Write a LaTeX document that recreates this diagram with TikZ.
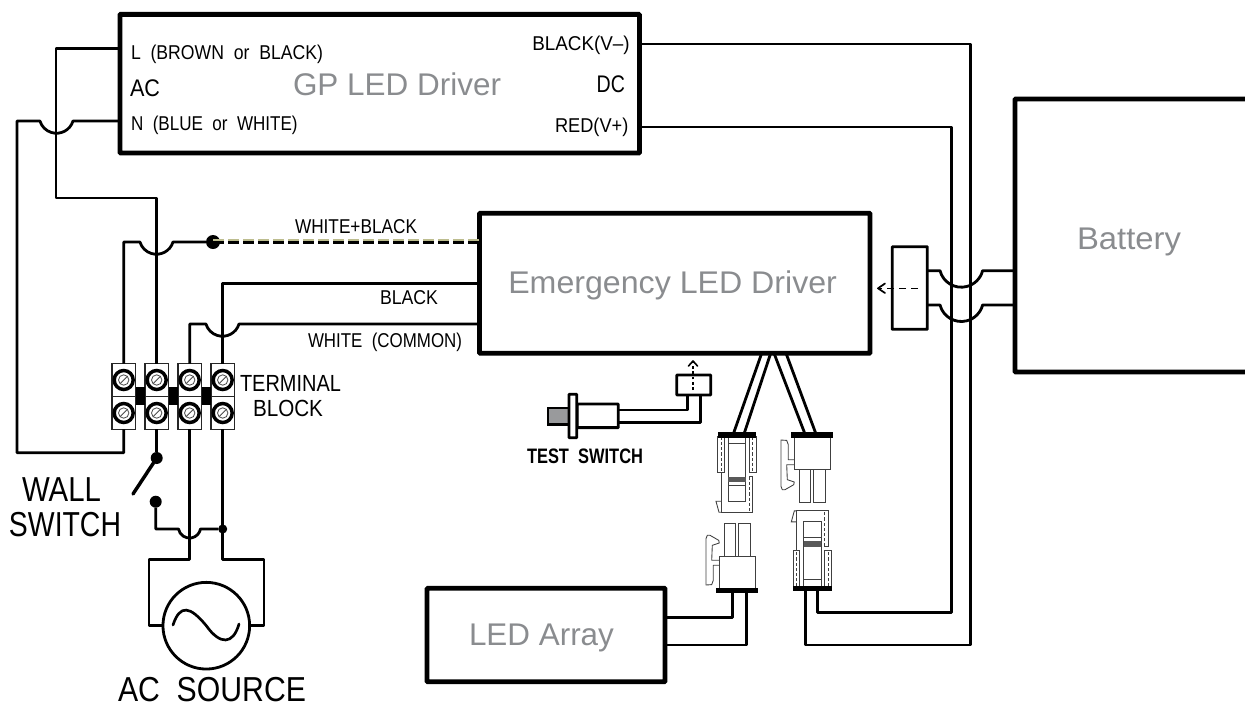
\documentclass[tikz,border=0pt]{standalone}
\usepackage{fontspec}
\usepackage{graphicx}
\usetikzlibrary{positioning}
\setmainfont{Liberation Sans}
\definecolor{labelgray}{HTML}{8A8C8F}
\definecolor{plungergray}{HTML}{999A9C}
\definecolor{wireolive}{HTML}{BDBD8F}
\newcommand{\fitw}[2]{\resizebox{#1pt}{\height}{#2}}
\tikzset{
  socketconn/.pic={
    \draw [thinpart] (0,-2) rectangle (6.6,-37.6);
    \draw [thinpart] (31.8,-2) rectangle (38.6,-37.6);
    \draw [thinpart, dashed, dash pattern=on 2.4pt off 1.5pt] (3.3,-2) -- (3.3,-37.6);
    \draw [thinpart, dashed, dash pattern=on 2.4pt off 1.5pt] (35.2,-2) -- (35.2,-37.6);
    \draw [thinpart] (10.6,-2) rectangle (28,-67);
    \draw [thinpart] (10.6,-8.6) -- (28,-8.6);
    \fill [black!65] (10.6,-42) rectangle (28,-47.6);
    \draw [thinpart] (10.6,-51) -- (28,-51);
    \draw [thinpart] (3.3,-37.6) -- (3.3,-77.6) -- (35,-77.6) -- (35,-42) -- (31.6,-42);
    \draw [thinpart, dashed, dash pattern=on 2.4pt off 1.5pt] (31.3,-42) -- (31.3,-77.6);
    \draw [thinpart] (3.3,-66.6) -- (-1.7,-66.6) -- (1.3,-77.6) -- (3.3,-77.6);
    \fill [black] (0,-2.8) rectangle (38.6,2.8);
  },
  plugconn/.pic={
    \draw [thinpart] (3.3,-2) rectangle (39,-34.3);
    \draw [thinpart] (8.3,-34.3) rectangle (19.7,-67.3);
    \draw [thinpart] (22.3,-34.3) rectangle (34,-67.3);
    \draw [thinpart, line join=round] (3.3,-25) -- (-2.7,-25) -- (-2.7,-10) -- (-4.3,-5.7) -- (-10,-5.3) -- (-10,-51.7) -- (-8.7,-55) -- (-6,-55) -- (2.7,-50) -- (3.3,-47.3) -- (-3.7,-45) -- (-4.3,-30) -- (3.3,-30);
    \fill [black] (0,-2.8) rectangle (42.3,2.8);
  }
}
\begin{document}
\begin{tikzpicture}[x=0.75pt,y=0.75pt]
\tikzstyle{every node}+=[inner sep=0pt, outer sep=0pt]
\tikzstyle{wire}=[black, line width=2.1pt, line join=round]
\tikzstyle{thinpart}=[black!75, line width=0.65pt]
\tikzstyle{bigbox}=[draw=black, line width=3.6pt, rounded corners=0.6pt]
\tikzstyle{smallbox}=[draw=black, line width=2.1pt, fill=white, rounded corners=0.4pt]
\tikzstyle{blockcell}=[draw=black!85, line width=0.9pt, minimum width=17.6pt, minimum height=24.7pt]
\tikzstyle{dotnode}=[circle, fill=black]
\tikzstyle{lab}=[anchor=base west, text=black, font=\fontsize{15}{17}\selectfont]
\tikzstyle{biglab}=[anchor=base west, text=black, font=\fontsize{26}{30}\selectfont]
\tikzstyle{graylab}=[anchor=base west, text=labelgray, font=\fontsize{23.5}{27}\selectfont]
\useasboundingbox (0,-704) rectangle (1245,0);

\node [bigbox, minimum width=389.6pt, minimum height=104pt] (gpdriver) at (379.7,-83.7) {};
\node [bigbox, minimum width=292.9pt, minimum height=105pt] (emdriver) at (674.8,-283.2) {};
\node [minimum width=172.5pt, minimum height=204.7pt] (battery) at (1130,-235.5) {};
\draw [bigbox] (1245,-99) -- (battery.north west) -- (battery.south west) -- (1245,-372);
\node [bigbox, minimum width=178.5pt, minimum height=70pt] (ledarray) at (546,-635) {};
\node [smallbox, minimum width=26.3pt, minimum height=62pt] (batconn) at (909.8,-288) {};
\node [smallbox, minimum width=25.5pt, minimum height=15pt] (testbox) at (693.7,-385) {};

\node [lab] (lbrown) at (131,-59.3) {\fitw{144}{L\ \ (BROWN\ \ or\ \ BLACK)}};
\node [lab, font=\fontsize{18}{20}\selectfont] (aclabel) at (130,-96) {\fitw{22.5}{AC}};
\node [lab] (nblue) at (131,-130) {\fitw{125}{N\ \ (BLUE\ \ or\ \ WHITE)}};
\node [lab] (vminus) at (532.3,-50.7) {\fitw{73}{BLACK(V--)}};
\node [lab, font=\fontsize{18}{20}\selectfont] (dclabel) at (596.7,-92.7) {\fitw{21.2}{DC}};
\node [lab] (vplus) at (555,-132.3) {\fitw{55}{RED(V+)}};
\node [lab] (whiteblack) at (295,-233.3) {\fitw{91.5}{WHITE+BLACK}};
\node [lab] (blacklab) at (380,-304.3) {\fitw{43.5}{BLACK}};
\node [lab] (whitecom) at (308,-347.3) {\fitw{115.5}{WHITE\ \ (COMMON)}};
\node [graylab] (gptext) at (293,-95.7) {\fitw{156}{GP LED Driver}};
\node [graylab] (emtext) at (508.3,-293.3) {\fitw{246.5}{Emergency LED Driver}};
\node [graylab] (battext) at (1077,-249) {\fitw{78}{Battery}};
\node [graylab] (ledtext) at (469,-645.5) {\fitw{108.7}{LED Array}};
\node [lab, font=\fontsize{17.5}{20}\selectfont] (termtext) at (240,-391.7) {\fitw{75.7}{TERMINAL}};
\node [lab, font=\fontsize{17.5}{20}\selectfont] (blocktext) at (253,-416.7) {\fitw{52.5}{BLOCK}};
\node [biglab] (walltext) at (22,-501.7) {\fitw{59.2}{WALL}};
\node [biglab] (switchtext) at (9,-536) {\fitw{84}{SWITCH}};
\node [biglab] (sourcetext) at (118,-701) {\fitw{141}{AC\ \ SOURCE}};
\node [lab, font=\bfseries\fontsize{15.7}{18}\selectfont] (testtext) at (527,-463.3) {\fitw{87}{TEST\ \ SWITCH}};

\foreach \col/\xx in {1/123.7,2/156.7,3/189.7,4/222.7} {
  \node [blockcell] (top\col) at (\xx,-380) {};
  \node [blockcell] (bot\col) at (\xx,-413) {};
  \draw [black, line width=2.6pt, fill=white] (\xx,-380) circle (9.5);
  \draw [black, line width=2.6pt, fill=white] (\xx,-413) circle (9.5);
  \draw [black!70, line width=0.6pt] (\xx,-380) circle (5.2);
  \draw [black!70, line width=0.6pt] (\xx,-413) circle (5.2);
  \draw [black!70, line width=0.6pt] (\xx-3.5,-383.5) -- (\xx+3.5,-376.5);
  \draw [black!70, line width=0.6pt] (\xx-3.5,-416.5) -- (\xx+3.5,-409.5);
}
\fill [black] (135.5,-387) rectangle (145,-405);
\fill [black] (168.5,-387) rectangle (178,-405);
\fill [black] (201.5,-387) rectangle (211,-405);

\draw [wire] (gpdriver.west |- 0,-48.5) -- (56,-48.5) -- (56,-198) -- (156.7,-198) -- (top2.north);
\draw [wire] (gpdriver.west |- 0,-121) -- (73,-121) arc (-17:-163:17.3) -- (17,-121) -- (17,-452.7) -- (123.7,-452.7) -- (bot1.south);
\node [dotnode, minimum size=10.5pt] (whitedot) at (213,-242) {};
\draw [wire] (whitedot) -- (173,-242) arc (-17:-163:17.3) -- (123.7,-242) -- (top1.north);
\draw [wireolive, line width=2.2pt, dashed, dash pattern=on 8pt off 3.25pt] (whitedot.center |- 0,-240.8) -- (emdriver.west |- 0,-240.8);
\draw [black, line width=2.2pt, dashed, dash pattern=on 8pt off 3.25pt] (whitedot.center |- 0,-242.2) -- (emdriver.west |- 0,-242.2);
\draw [wire] (emdriver.west |- 0,-283.5) -- (222.7,-283.5) -- (top4.north);
\draw [wire] (emdriver.west |- 0,-324) -- (239,-324) arc (-17:-163:17.3) -- (189.7,-324) -- (top3.north);

\node [dotnode, minimum size=9pt] (swtop) at (156.7,-458) {};
\node [dotnode, minimum size=9pt] (swbot) at (155.7,-501.7) {};
\coordinate (swfree) at (133,-494);
\draw [wire] (bot2.south) -- (swtop);
\draw [black, line width=2.6pt, line cap=round] (swtop) -- (swfree);
\node [dotnode, minimum size=6.8pt] (acdot) at (222.7,-529) {};
\draw [wire] (swbot) -- (155.7,-529) -- (178.5,-529) arc (191:349:11.2) -- (acdot);

\node [circle, draw=black, line width=2.1pt, minimum size=65pt] (acsrc) at (206.3,-625.7) {};
\draw [wire] (bot3.south) -- (189.7,-559.3) -- (149,-559.3) -- (149,-625.7) -- (acsrc.west);
\draw [wire] (bot4.south) -- (222.7,-559.3) -- (264,-559.3) -- (264,-625.7) -- (acsrc.east);
\draw [black, line width=2pt, line cap=round] (173,-625) .. controls (180,-604) and (190,-606) .. (206.3,-625.7) .. controls (220,-645) and (233,-645) .. (239,-624);

\draw [wire] (gpdriver.east |- 0,-44) -- (970.7,-44) -- (970.7,-645) -- (805.7,-645) -- (805.7,-590);
\draw [wire] (gpdriver.east |- 0,-127) -- (951.7,-127) -- (951.7,-612.7) -- (817.3,-612.7) -- (817.3,-590);
\draw [wire] (batconn.east |- 0,-270.7) -- (940,-270.7) arc (194.5:345.5:22) -- (battery.west |- 0,-270.7);
\draw [wire] (batconn.east |- 0,-305) -- (940,-305) arc (194.5:345.5:22) -- (battery.west |- 0,-305);
\coordinate (batfrom) at (918,-288.3);
\coordinate (batto) at (877,-288.3);
\draw [black, line width=1.1pt, dashed, dash pattern=on 5pt off 4pt] (batfrom) -- (batto);
\draw [black, line width=1.3pt, line cap=round, line join=round] (885,-283.5) -- (878,-288.3) -- (885,-293);

\draw [wire] (ledarray.east |- 0,-617.3) -- (732.7,-617.3) -- (732.7,-590);
\draw [wire] (ledarray.east |- 0,-645) -- (746.7,-645) -- (746.7,-590);

\draw [wire] (emdriver.south -| 761.7,0) -- (733.3,-434);
\draw [wire] (emdriver.south -| 770.7,0) -- (744,-434);
\draw [wire] (emdriver.south -| 774,0) -- (805,-434);
\draw [wire] (emdriver.south -| 786,0) -- (816,-434);

\pic at (717.7,-434.7) {socketconn};
\pic at (791,-434.7) {plugconn};
\pic [yscale=-1] at (793,-588.5) {socketconn};
\pic [yscale=-1] at (716,-590.3) {plugconn};

\draw [wire] (testbox.south -| 687.3,0) -- (687.3,-410) -- (618.3,-410);
\draw [wire] (testbox.south -| 700.3,0) -- (700.3,-422.7) -- (618.3,-422.7);
\coordinate (testfrom) at (693,-390);
\coordinate (testto) at (693,-361);
\draw [black, line width=1pt, dashed, dash pattern=on 2pt off 2pt] (testfrom) -- (testto);
\draw [black, line width=1.2pt, line cap=round, line join=round] (688.5,-366) -- (693,-361) -- (697.5,-366);
\node [draw=black, line width=2.1pt, fill=plungergray, minimum width=15.7pt, minimum height=12.5pt] (plunger) at (558.5,-416.4) {};
\node [smallbox, minimum width=30.7pt, minimum height=17.7pt] (swbody) at (597.8,-415.8) {};
\node [smallbox, minimum width=5.8pt, minimum height=32.5pt] (flange) at (572.8,-416) {};
\end{tikzpicture}
\end{document}
